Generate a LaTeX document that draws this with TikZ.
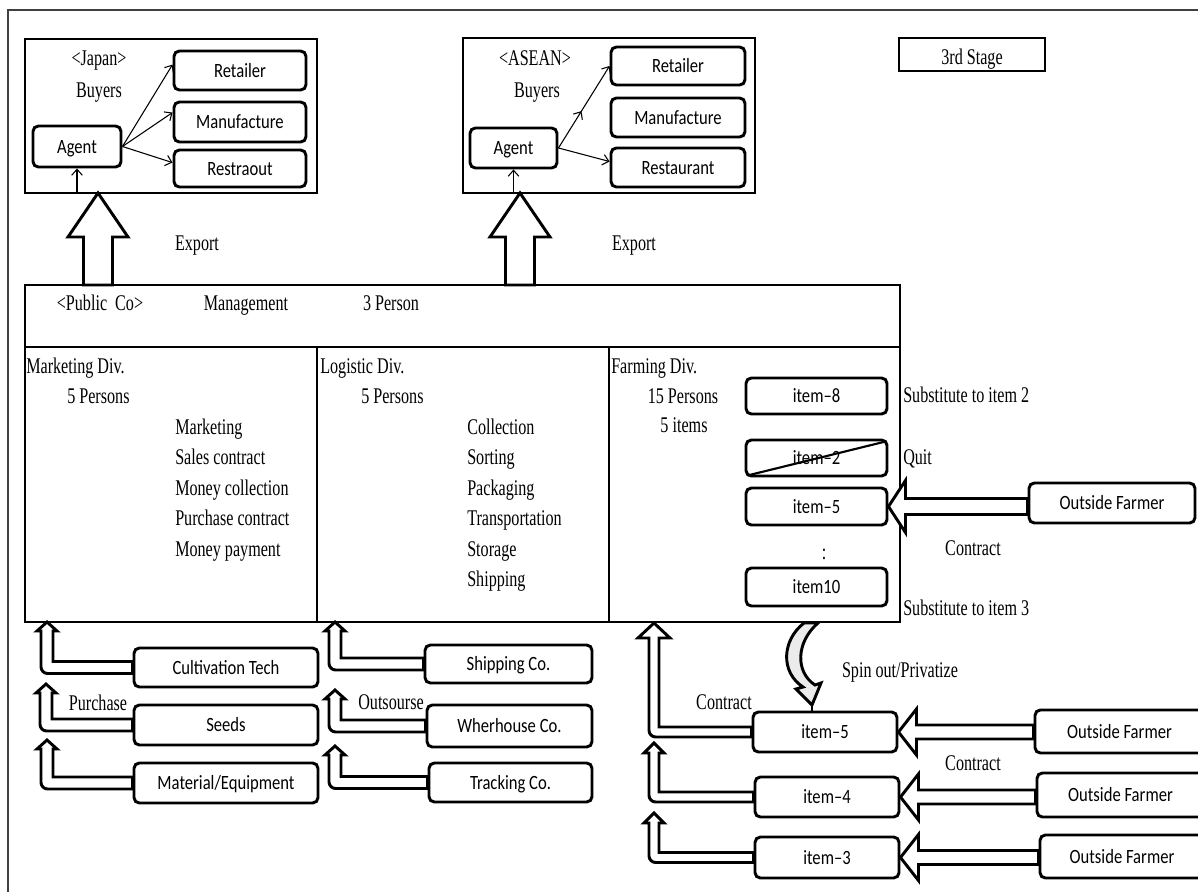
\documentclass[tikz,border=0pt]{standalone}
\usepackage{fontspec}
\newfontfamily\serfam{Liberation Serif}[FakeStretch=0.72]
\newfontfamily\sanfam{Carlito}[FakeStretch=0.82]
\newcommand\myser{\serfam\fontsize{16.8pt}{19pt}\selectfont}
\newcommand\mysan{\sanfam\fontsize{15.2pt}{18pt}\selectfont}
\usetikzlibrary{arrows.meta,calc,decorations.markings}
\newcommand\bentup[5]{%
 \draw[hollow] ($(#1.west)+(0,-#3)$) -- ($(#1.west -| #2)+(#3,-#3)$) -- ($(#2)+(#3,#5)$) -- ($(#2)+(#4,#5)$) -- (#2) -- ($(#2)+(-#4,#5)$) -- ($(#2)+(-#3,#5)$) [rounded corners=5pt] -- ($(#1.west -| #2)+(-#3,#3)$) [sharp corners] -- ($(#1.west)+(0,#3)$) -- cycle;}
\newcommand\leftin[5]{%
 \draw[hollow] ($(#1.west |- #2.east)+(0,-#3)$) -- ($(#2.east)+(#5,-#3)$) -- ($(#2.east)+(#5,-#4)$) -- (#2.east) -- ($(#2.east)+(#5,#4)$) -- ($(#2.east)+(#5,#3)$) -- ($(#1.west |- #2.east)+(0,#3)$) -- cycle;}
\newcommand\bigup[2]{%
 \draw[hollow] (#2) -- ($(#2)+(30,44)$) -- ($(#2)+(14.5,44)$) -- ($(#1)+(14.5,0)$) -- ($(#1)+(-14.5,0)$) -- ($(#2)+(-14.5,44)$) -- ($(#2)+(-30,44)$) -- cycle;}
\begin{document}
\begin{tikzpicture}[x=0.75pt,y=-0.75pt,
 bb/.style n args={4}{at={({(#1+#3)/2},{(#2+#4)/2})}, minimum width={(#3-#1)*0.75pt}, minimum height={(#4-#2)*0.75pt}},
 rbox/.style={draw, line width=2.2pt, rounded corners=4pt, fill=white, inner sep=0pt, font=\mysan, text height=9.8pt, text depth=0pt},
 sbox/.style={draw, line width=1.5pt, fill=white, inner sep=0pt, font=\myser, text height=11pt, text depth=0pt},
 lbl/.style={inner sep=0pt, font=\myser, text height=11pt, text depth=0pt},
 barb/.tip={Straight Barb[length=4.5pt,width=8pt]},
 thinarr/.style={-barb, line width=0.8pt},
 hollow/.style={draw, line width=2.2pt, fill=white, line join=miter},
 divline/.style={line width=1.5pt}]
\useasboundingbox (0,0) rectangle (1198,892);
\fill[white] (0,0) rectangle (1198,892);
\clip (0,0) rectangle (1198,892);
\draw[black!75, line width=1.1pt] (8,892) -- (8,10) -- (1198,10);

% ---------- Japan buyers ----------
\node[sbox, bb={25}{39}{317}{193}] (japan) {};
\node[lbl] (jpn) at (99,58) {<Japan>};
\node[lbl] (jby) at (99,90) {Buyers};
\node[rbox, bb={174}{51}{306}{90}] (retJ) {Retailer};
\node[rbox, bb={174}{102}{306}{142}] (manJ) {Manufacture};
\node[rbox, bb={174}{150}{306}{187}] (resJ) {Restraout};
\node[rbox, bb={33}{126}{121}{167}] (agJ) {Agent};
\draw[thinarr] (agJ.east) -- (retJ.175);
\draw[thinarr] (agJ.east) -- (manJ.172);
\draw[thinarr] (agJ.east) -- (resJ.175);
\draw[thinarr] (agJ.south |- japan.south) -- (agJ.south);

% ---------- ASEAN buyers ----------
\node[sbox, bb={463}{38}{755}{193}] (asean) {};
\node[lbl] (asn) at (535,58) {<ASEAN>};
\node[lbl] (aby) at (537,90) {Buyers};
\node[rbox, bb={611}{47}{745}{85}] (retA) {Retailer};
\node[rbox, bb={611}{98}{745}{137}] (manA) {Manufacture};
\node[rbox, bb={611}{148}{745}{187}] (resA) {Restaurant};
\node[rbox, bb={470}{128}{557}{168}] (agA) {Agent};
\draw[thinarr, postaction={decorate}, decoration={markings, mark=at position 0.45 with {\arrow{barb}}}] (agA.east) -- (retA.west);
\draw[thinarr] (agA.east) -- (resA.175);
\draw[thinarr] (agA.south |- asean.south) -- (agA.south);

% ---------- 3rd stage ----------
\node[sbox, bb={899}{38}{1045}{71}] (stage) {\raisebox{-2pt}{3rd Stage}};

% ---------- Public Co ----------
\node[draw, line width=1.5pt, inner sep=0pt, bb={25}{285}{900}{622}] (pub) {};
\draw[divline] (25,347) -- (900,347);
\draw[divline] (317,347) -- (317,622);
\draw[divline] (609,347) -- (609,622);
\node[lbl] (pco) at (100,303) {<Public~~Co>};
\node[lbl] (mgt) at (246,303) {Management};
\node[lbl] (per) at (391,303) {3 Person};

\node[lbl, anchor=west] (mdiv) at (26,366) {Marketing Div.};
\node[lbl, anchor=west] (mper) at (67,396) {5 Persons};
\foreach \t [count=\i] in {Marketing, Sales contract, Money collection, Purchase contract, Money payment}
  \node[lbl, anchor=west] (mk\i) at (175,396.5+30.5*\i) {\t};
\node[lbl, anchor=west] (ldiv) at (320,366) {Logistic Div.};
\node[lbl, anchor=west] (lper) at (361,396) {5 Persons};
\foreach \t [count=\i] in {Collection, Sorting, Packaging, Transportation, Storage, Shipping}
  \node[lbl, anchor=west] (lg\i) at (467,396.5+30.5*\i) {\t};
\node[lbl, anchor=west] (fdiv) at (611,366) {Farming Div.};
\node[lbl] (fper) at (683,396) {15 Persons};
\node[lbl] (fitm) at (684,425) {5 items};

\node[rbox, bb={746}{378}{887}{414}] (item8) {item–8};
\node[rbox, bb={746}{440}{887}{476}] (item2) {item–2};
\draw[line width=1.6pt] ($(item2.south west)+(3,-2)$) -- ($(item2.north east)+(-3,3)$);
\node[rbox, bb={746}{488}{887}{525}] (item5) {item–5};
\node[lbl] (dots) at (824,552) {:};
\node[rbox, bb={746}{568}{887}{606}] (item10) {item10};

\node[lbl, anchor=west] (sub2) at (903,395) {Substitute to item 2};
\node[lbl, anchor=west] (quit) at (903,457) {Quit};
\node[lbl] (con1) at (973,548) {Contract};
\node[lbl, anchor=west] (sub3) at (903,608) {Substitute to item 3};
\node[rbox, bb={1029}{483}{1195}{523}] (ofA) {Outside Farmer};
\leftin{ofA}{item5}{8}{26}{17}

% ---------- Export arrows ----------
\coordinate (jt) at (98,193); \coordinate (jb) at (98,285);
\coordinate (at) at (520,193); \coordinate (ab) at (520,285);
\bigup{jb}{jt}
\bigup{ab}{at}
\node[lbl] (exJ) at (197,243) {Export};
\node[lbl] (exA) at (634,243) {Export};

% ---------- Marketing suppliers ----------
\node[rbox, bb={134}{648}{318}{687}] (cult) {Cultivation Tech};
\node[rbox, bb={134}{705}{318}{745}] (seeds) {Seeds};
\node[rbox, bb={134}{763}{318}{803}] (mat) {Material/Equipment};
\coordinate (t1) at (47,622); \coordinate (t2) at (46,684); \coordinate (t3) at (47,740);
\bentup{cult}{t1}{6}{10}{9}
\bentup{seeds}{t2}{6}{10}{9}
\bentup{mat}{t3}{6}{10}{9}
\node[lbl] (purch) at (98,703) {Purchase};

% ---------- Logistic suppliers ----------
\node[rbox, bb={425}{645}{592}{683}] (ship) {Shipping Co.};
\node[rbox, bb={427}{705}{592}{747}] (wher) {Wherhouse Co.};
\node[rbox, bb={429}{763}{592}{802}] (track) {Tracking Co.};
\coordinate (u1) at (335,622); \coordinate (u2) at (335,690); \coordinate (u3) at (335,746);
\bentup{ship}{u1}{6}{10}{9}
\bentup{wher}{u2}{6}{10}{9}
\bentup{track}{u3}{6}{10}{9}
\node[lbl] (outs) at (391,702) {Outsourse};

% ---------- Farming spin-out ----------
\node[rbox, bb={753}{712}{897}{752}] (it5) {item–5};
\node[rbox, bb={755}{777}{899}{817}] (it4) {item–4};
\node[rbox, bb={755}{837}{899}{878}] (it3) {item–3};
\node[rbox, bb={1035}{710}{1204}{753}] (of1) {Outside Farmer};
\node[rbox, bb={1037}{773}{1204}{817}] (of2) {Outside Farmer};
\node[rbox, bb={1040}{835}{1204}{878}] (of3) {Outside Farmer};
\leftin{of1}{it5}{7}{23}{18}
\leftin{of2}{it4}{7}{23}{18}
\leftin{of3}{it3}{7}{23}{18}
\coordinate (f1) at (654,623); \coordinate (f2) at (654,743); \coordinate (f3) at (654,813);
\bentup{it5}{f1}{5}{16}{15}
\bentup{it4}{f2}{5}{10}{10}
\bentup{it3}{f3}{5}{10}{10}

\coordinate (sp) at (812,705);
\draw[hollow, fill=black!8] (804,623) .. controls (782,640) and (780,672) .. (803,687) -- (796,689) -- (sp) -- (821,683) -- (815,685) .. controls (795,672) and (796,642) .. (818,623) -- cycle;
\draw[line width=0.9pt] (sp) -- (sp |- it5.north);
\node[lbl] (spin) at (900,670) {Spin out/Privatize};
\node[lbl] (con2) at (724,702) {Contract};
\node[lbl] (con3) at (973,763) {Contract};
\end{tikzpicture}
\end{document}
